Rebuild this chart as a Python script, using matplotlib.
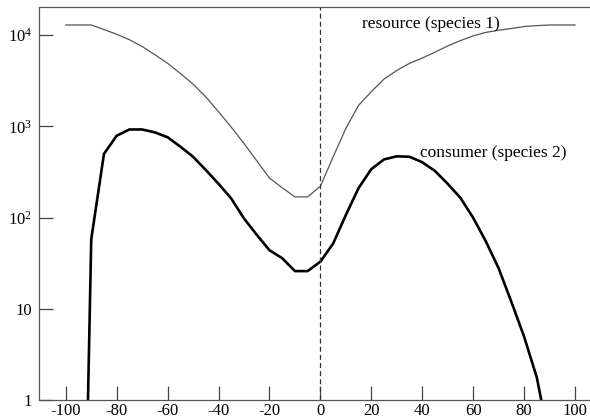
import matplotlib
matplotlib.use("Agg")
import matplotlib.pyplot as plt
from matplotlib.ticker import FixedLocator, NullLocator

plt.rcParams['font.family'] = ['Liberation Serif', 'DejaVu Serif']
plt.rcParams['mathtext.default'] = 'regular'

# resource (species 1)
res_x = [-100, -90, -85, -80, -75, -70, -65, -60, -55, -50, -45, -40, -35, -30, -25,
         -20, -15, -10, -5, 0, 5, 10, 15, 20, 25, 30, 35, 40, 45, 50, 55, 60, 65, 70,
         75, 80, 85, 90, 95, 100]
res_y = [12900, 12900, 11500, 10200, 8900, 7500, 6100, 4900, 3800, 2900, 2100, 1450,
         980, 650, 420, 272, 213, 169, 169, 221, 462, 950, 1700, 2400, 3300, 4100,
         4900, 5600, 6500, 7600, 8700, 9800, 10700, 11300, 11800, 12400, 12700, 12900,
         12900, 12900]

# consumer (species 2)
con_x = [-91.5, -90, -85, -80, -75, -70, -65, -60, -55, -50, -45, -40, -35, -30, -25,
         -20, -15, -10, -5, 0, 5, 10, 15, 20, 25, 30, 35, 40, 45, 50, 55, 60, 65, 70,
         75, 80, 85, 90]
con_y = [0.5, 58, 500, 790, 925, 925, 860, 760, 600, 465, 333, 235, 162, 98, 65,
         44, 36, 26, 26, 33, 52, 107, 211, 340, 435, 470, 465, 405, 325, 235, 165, 100,
         55, 28, 12, 5, 1.78, 0.35]

x_ticks = [-100, -80, -60, -40, -20, 0, 20, 40, 60, 80, 100]
y_ticks = [1, 10, 100, 1000, 10000]
y_tick_labels = ['1', '10', '10$^{2}$', '10$^{3}$', '10$^{4}$']

fig = plt.figure(figsize=(5.9, 4.2), dpi=100)
ax = fig.add_axes([39.3 / 590, (420 - 400.3) / 420, (590 - 39.3) / 590, (400.3 - 7.3) / 420])

ax.plot(res_x, res_y, color='#555555', lw=0.9)
ax.plot(con_x, con_y, color='black', lw=1.9)
ax.axvline(0, color='#333333', lw=0.9, dashes=(4, 2.5))

ax.set_yscale('log')
ax.set_xlim(-110.4, 105.9)
ax.set_ylim(1, 20150)

ax.xaxis.set_major_locator(FixedLocator(x_ticks))
ax.set_xticklabels([str(v) for v in x_ticks])
ax.yaxis.set_major_locator(FixedLocator(y_ticks))
ax.yaxis.set_minor_locator(NullLocator())
ax.set_yticklabels(y_tick_labels)

ax.tick_params(direction='in', length=10, width=0.9, color='#444444', labelsize=12,
               top=False, right=False)
ax.tick_params(axis='x', pad=2)
ax.tick_params(axis='y', pad=5)
for name, sp in ax.spines.items():
    sp.set_color('#555555')
    sp.set_linewidth(0.9)
ax.spines['right'].set_visible(False)

ax.text(16.3, 13100, 'resource (species 1)', fontsize=12.5, va='center', ha='left')
ax.text(39.1, 507, 'consumer (species 2)', fontsize=12.5, va='center', ha='left')

fig.savefig('out.png', dpi=100)
